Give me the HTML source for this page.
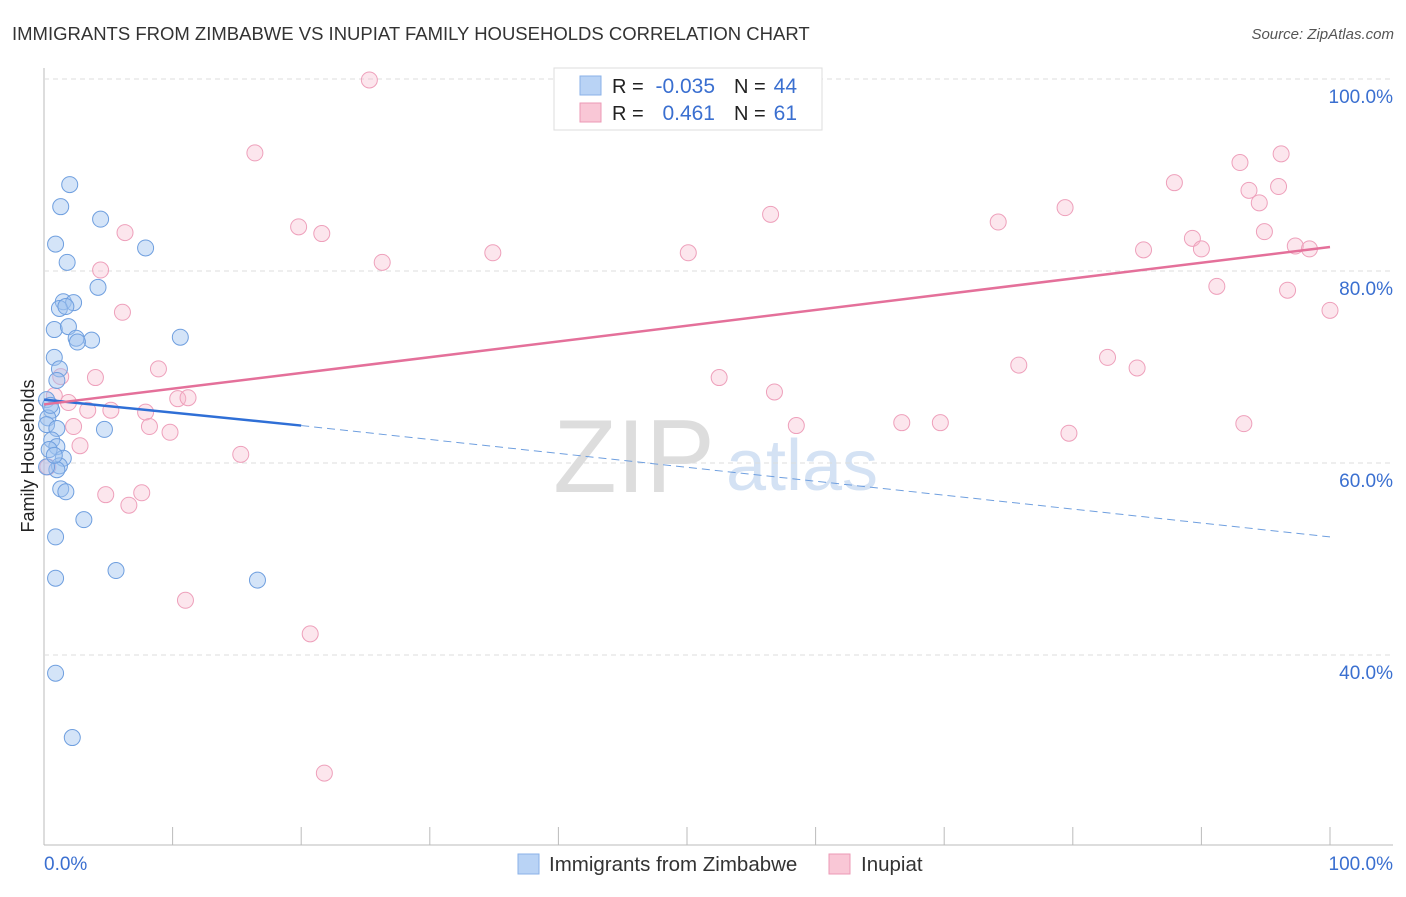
<!DOCTYPE html>
<html><head><meta charset="utf-8"><style>
body{margin:0;background:#fff;font-family:"Liberation Sans",sans-serif;}
svg text{font-family:"Liberation Sans",sans-serif;}
</style></head><body>
<svg id="c" width="1406" height="892" xmlns="http://www.w3.org/2000/svg">
<text x="12" y="40" font-size="18.5" fill="#333">IMMIGRANTS FROM ZIMBABWE VS INUPIAT FAMILY HOUSEHOLDS CORRELATION CHART</text>
<text x="1394" y="39" font-size="15" fill="#555" font-style="italic" text-anchor="end">Source: ZipAtlas.com</text>
<text x="34" y="456" font-size="18" fill="#222" text-anchor="middle" transform="rotate(-90 34 456)">Family Households</text>
<g><text x="634" y="492" font-size="104" fill="#ddd" font-family="Liberation Serif" text-anchor="middle">ZIP</text><text x="802" y="490" font-size="72" fill="#d4e2f4" text-anchor="middle">atlas</text></g>
<g id="grid"></g><g id="marks"></g>
<g>
<rect x="554" y="68" width="268" height="62" fill="#fff" stroke="#ddd"/>
<rect x="580" y="76" width="21" height="19" fill="#b9d3f5" stroke="#8ab2e8"/>
<rect x="580" y="103" width="21" height="19" fill="#f9c7d6" stroke="#ec9ab6"/>
<text x="612" y="93" font-size="20" fill="#222">R = </text><text x="715" y="93" font-size="21" fill="#3a6fd0" text-anchor="end">-0.035</text>
<text x="734" y="93" font-size="20" fill="#222">N = </text><text x="797" y="93" font-size="21" fill="#3a6fd0" text-anchor="end">44</text>
<text x="612" y="120" font-size="20" fill="#222">R = </text><text x="715" y="120" font-size="21" fill="#3a6fd0" text-anchor="end">0.461</text>
<text x="734" y="120" font-size="20" fill="#222">N = </text><text x="797" y="120" font-size="21" fill="#3a6fd0" text-anchor="end">61</text>
</g>
<g>
<rect x="518" y="854" width="21" height="20" fill="#b9d3f5" stroke="#8ab2e8"/>
<text x="549" y="871" font-size="20.5" fill="#333">Immigrants from Zimbabwe</text>
<rect x="829" y="854" width="21" height="20" fill="#f9c7d6" stroke="#ec9ab6"/>
<text x="861" y="871" font-size="20.5" fill="#333">Inupiat</text>
</g>
</svg>
<script>
const xTicks=[0,10,20,30,40,50,60,70,80,90,100];
const yTicks=[40,60,80,100];
const yTickLabels=["40.0%","60.0%","80.0%","100.0%"];
const blueX=[2.0,1.3,4.4,0.9,7.9,1.8,4.2,1.5,2.3,1.2,1.7,0.8,1.9,2.5,3.7,2.6,10.6,0.8,1.2,1.0,0.2,0.6,0.3,0.2,1.0,4.7,0.6,1.0,0.4,1.5,1.2,1.0,1.3,1.7,3.1,0.9,5.6,0.9,16.6,0.9,2.2,0.2,0.5,0.8];
const blueY=[89.0,86.7,85.4,82.8,82.4,80.9,78.3,76.8,76.7,76.1,76.3,73.9,74.2,73.0,72.8,72.6,73.1,71.0,69.8,68.6,66.6,65.5,64.7,64.0,63.6,63.5,62.4,61.7,61.4,60.5,59.7,59.3,57.3,57.0,54.1,52.3,48.8,48.0,47.8,38.1,31.4,59.6,66.0,60.8];
const pinkX=[25.3,47.3,16.4,96.2,93.0,87.9,93.7,96.0,94.5,56.5,79.4,74.2,19.8,6.3,21.6,94.9,89.3,85.5,90.0,97.3,98.4,34.9,50.1,26.3,4.4,91.2,96.7,6.1,100,82.7,75.8,85.0,8.9,4.0,1.3,52.5,56.8,10.4,11.2,0.8,1.9,3.4,5.2,7.9,8.2,9.8,2.3,58.5,66.7,69.7,93.3,79.7,2.8,15.3,4.8,7.6,6.6,11.0,20.7,21.8,0.3];
const pinkY=[99.9,99.9,92.3,92.2,91.3,89.2,88.4,88.8,87.1,85.9,86.6,85.1,84.6,84.0,83.9,84.1,83.4,82.2,82.3,82.6,82.3,81.9,81.9,80.9,80.1,78.4,78.0,75.7,75.9,71.0,70.2,69.9,69.8,68.9,69.0,68.9,67.4,66.7,66.8,67.0,66.3,65.5,65.5,65.3,63.8,63.2,63.8,63.9,64.2,64.2,64.1,63.1,61.8,60.9,56.7,56.9,55.6,45.7,42.2,27.7,59.6];
const blueTrend=[66.6,63.9,52.3];
const pinkTrend=[66.1,82.5];
const X=v=>44+v*12.86, Y=v=>79+(100-v)*9.6;
const NS="http://www.w3.org/2000/svg";
const grid=document.getElementById('grid'), marks=document.getElementById('marks');
function mk(p,tag,a){const e=document.createElementNS(NS,tag);for(const k in a)e.setAttribute(k,a[k]);p.appendChild(e);return e;}
mk(grid,'line',{x1:44,y1:68,x2:44,y2:845,stroke:'#bbb'});
mk(grid,'line',{x1:44,y1:845,x2:1393,y2:845,stroke:'#bbb'});
mk(grid,'line',{x1:44,y1:Y(100),x2:1393,y2:Y(100),stroke:'#ddd','stroke-dasharray':'5,4'});
yTicks.forEach((t,i)=>{
 if(t<100){const g=mk(grid,'line',{x1:44,y1:Y(t),x2:1393,y2:Y(t),stroke:'#ddd','stroke-dasharray':'5,4'});
 
 }
 const l=mk(grid,'text',{x:1393,y:Y(t)+24,'font-size':19,fill:'#3a6fd0','text-anchor':'end'});
 l.textContent=yTickLabels[i];
 
 
});
xTicks.forEach(t=>{if(t>0){const e=mk(grid,'line',{x1:X(t),y1:827,x2:X(t),y2:845,stroke:'#bbb'});
 
 }});
const xl0=mk(grid,'text',{x:44,y:870,'font-size':19,fill:'#3a6fd0'});xl0.textContent='0.0%';


const xl1=mk(grid,'text',{x:1393,y:870,'font-size':19,fill:'#3a6fd0','text-anchor':'end'});xl1.textContent='100.0%';


pinkX.forEach((x,i)=>{const c=mk(marks,'circle',{cx:X(x),cy:Y(pinkY[i]),r:8,fill:'rgba(246,182,202,0.35)',stroke:'#eea0bb','stroke-width':1});
 
 });
blueX.forEach((x,i)=>{const c=mk(marks,'circle',{cx:X(x),cy:Y(blueY[i]),r:8,fill:'rgba(160,196,240,0.45)',stroke:'#6f9fdf','stroke-width':1});
 
 });
const bl=mk(marks,'line',{x1:X(0),y1:Y(blueTrend[0]),x2:X(20),y2:Y(blueTrend[1]),stroke:'#2f6fd6','stroke-width':2.5});


const bd=mk(marks,'line',{x1:X(20),y1:Y(blueTrend[1]),x2:X(100),y2:Y(blueTrend[2]),stroke:'#6f9fdf','stroke-width':1,'stroke-dasharray':'8,5'});


const pl=mk(marks,'line',{x1:X(0),y1:Y(pinkTrend[0]),x2:X(100),y2:Y(pinkTrend[1]),stroke:'#e4709a','stroke-width':2.5});


</script>
</body></html>
